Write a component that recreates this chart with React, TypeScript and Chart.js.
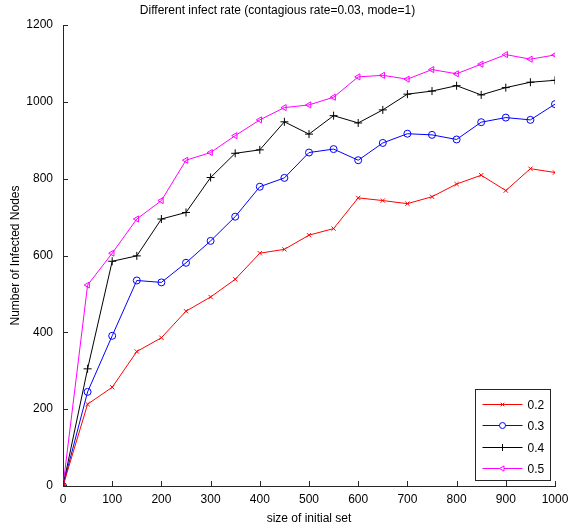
import React, { useEffect, useRef } from "react";
import { Chart, registerables } from "chart.js";
import { drawPoint } from "chart.js/helpers";

Chart.register(...registerables);

const titleText = "Different infect rate (contagious rate=0.03, mode=1)";
const xLabel = "size of initial set";
const yLabel = "Number of Infected Nodes";

const initialSetSizes = [0, 50, 100, 150, 200, 250, 300, 350, 400, 450, 500, 550, 600, 650, 700, 750, 800, 850, 900, 950, 1000];
const rate02 = [0, 213, 257, 350, 386, 455, 492, 538, 606, 616, 653, 670, 750, 743, 735, 753, 786, 809, 769, 826, 816];
const rate03 = [0, 245, 391, 535, 530, 581, 638, 701, 779, 802, 868, 877, 848, 893, 917, 914, 902, 947, 959, 953, 994];
const rate04 = [0, 305, 585, 599, 695, 712, 803, 866, 875, 948, 916, 964, 945, 979, 1020, 1028, 1042, 1018, 1037, 1051, 1056];
const rate05 = [0, 523, 606, 695, 743, 848, 868, 912, 953, 985, 992, 1012, 1065, 1069, 1059, 1084, 1073, 1098, 1123, 1111, 1122];
const seriesLabels = ["0.2", "0.3", "0.4", "0.5"];

const xMin = 0, xMax = 1000, xStep = 100;
const yMin = 0, yMax = 1200, yStep = 200;

const FONT = "'Liberation Sans', Helvetica, Arial, sans-serif";
const AXIS_COLOR = "#262626";

const seriesStyles = [
  { color: "#ff0000", pointStyle: "crossRot", rotation: 0, radius: 3 },
  { color: "#0000ff", pointStyle: "circle", rotation: 0, radius: 3.5 },
  { color: "#000000", pointStyle: "cross", rotation: 0, radius: 4 },
  { color: "#ff00ff", pointStyle: "triangle", rotation: -90, radius: 3.5 },
];

const inwardTicks = {
  id: "inwardTicks",
  afterDatasetsDraw(chart: any) {
    const { ctx } = chart;
    const xs = chart.scales.x;
    const ys = chart.scales.y;
    ctx.save();
    ctx.strokeStyle = AXIS_COLOR;
    ctx.lineWidth = 1;
    ctx.beginPath();
    xs.ticks.forEach((t: any) => {
      const px = Math.round(xs.getPixelForValue(t.value)) + 0.5;
      ctx.moveTo(px, ys.bottom);
      ctx.lineTo(px, ys.bottom - 5);
    });
    ys.ticks.forEach((t: any) => {
      const py = Math.round(ys.getPixelForValue(t.value)) + 0.5;
      ctx.moveTo(xs.left, py);
      ctx.lineTo(xs.left + 5, py);
    });
    ctx.stroke();
    ctx.restore();
  },
};

const boxLegend = {
  id: "boxLegend",
  afterDatasetsDraw(chart: any) {
    const { ctx, chartArea } = chart;
    const w = 75, h = 91;
    const x0 = Math.round(chartArea.right - 5 - w) + 0.5;
    const y0 = Math.round(chartArea.bottom - 6 - h) + 0.5;
    ctx.save();
    ctx.fillStyle = "#ffffff";
    ctx.fillRect(x0, y0, w, h);
    ctx.strokeStyle = AXIS_COLOR;
    ctx.lineWidth = 1;
    ctx.strokeRect(x0, y0, w, h);
    chart.data.datasets.forEach((ds: any, i: number) => {
      const st = seriesStyles[i];
      const cy = Math.round(y0 + 14.5 + i * 21.4) + 0.5;
      ctx.strokeStyle = st.color;
      ctx.lineWidth = 1;
      ctx.beginPath();
      ctx.moveTo(x0 + 7, cy);
      ctx.lineTo(x0 + 47, cy);
      ctx.stroke();
      ctx.fillStyle = "#ffffff";
      drawPoint(ctx, { pointStyle: st.pointStyle, rotation: st.rotation, radius: st.radius - 0.5, borderWidth: 1 } as any, x0 + 27, cy);
      ctx.fillStyle = "#000000";
      ctx.font = `12px ${FONT}`;
      ctx.textAlign = "left";
      ctx.textBaseline = "middle";
      ctx.fillText(ds.label, x0 + 52, cy + 1);
    });
    ctx.restore();
  },
};

export default function App() {
  const ref = useRef<HTMLCanvasElement | null>(null);
  useEffect(() => {
    document.body.style.margin = "0";
    const canvas = ref.current!;
    const allSeries = [rate02, rate03, rate04, rate05];
    const chart = new Chart(canvas, {
      type: "line",
      data: {
        datasets: allSeries.map((vals, i) => ({
          label: seriesLabels[i],
          data: initialSetSizes.map((x, j) => ({ x, y: vals[j] })),
          borderColor: seriesStyles[i].color,
          backgroundColor: "rgba(255,255,255,0)",
          borderWidth: 1,
          pointStyle: seriesStyles[i].pointStyle as any,
          rotation: seriesStyles[i].rotation,
          pointRadius: seriesStyles[i].radius,
          pointBorderWidth: 1,
          pointBorderColor: seriesStyles[i].color,
          pointBackgroundColor: "rgba(255,255,255,0)",
          tension: 0,
          fill: false,
        })),
      },
      options: {
        responsive: false,
        animation: false,
        layout: { padding: { left: 0, right: 14, top: 0, bottom: 0 } },
        plugins: {
          legend: { display: false },
          tooltip: { enabled: false },
          title: {
            display: true,
            text: titleText,
            color: "#000",
            font: { family: FONT, size: 12, weight: "normal" },
            padding: { top: 3, bottom: 7.6 },
          },
        },
        scales: {
          x: {
            type: "linear",
            min: xMin,
            max: xMax,
            afterFit: (s: any) => { s.height = 45; s.paddingRight = 0; s.paddingLeft = 0; },
            ticks: {
              stepSize: xStep,
              color: "#000",
              font: { family: FONT, size: 12 },
              padding: 6,
              maxRotation: 0,
              callback: (v: any) => String(v),
            },
            grid: { display: true, drawOnChartArea: false, drawTicks: false },
            border: { display: true, color: AXIS_COLOR, width: 1 },
            title: {
              display: true,
              text: xLabel,
              color: "#000",
              font: { family: FONT, size: 12 },
              padding: { top: 0, bottom: 4.8 },
            },
          },
          y: {
            type: "linear",
            min: yMin,
            max: yMax,
            afterFit: (s: any) => { s.width = 63; s.paddingTop = 0; s.paddingBottom = 0; },
            ticks: {
              stepSize: yStep,
              color: "#000",
              font: { family: FONT, size: 12 },
              padding: 10,
              callback: (v: any) => String(v),
            },
            grid: { display: true, drawOnChartArea: false, drawTicks: false },
            border: { display: true, color: AXIS_COLOR, width: 1 },
            title: {
              display: true,
              text: yLabel,
              color: "#000",
              font: { family: FONT, size: 12 },
              padding: { top: 8.8, bottom: 0 },
            },
          },
        },
      },
      plugins: [inwardTicks, boxLegend],
    });
    return () => chart.destroy();
  }, []);
  return (
    <div style={{ position: "absolute", left: 0, top: 0, width: 569, height: 531, background: "#fff" }}>
      <canvas ref={ref} width={569} height={531} />
    </div>
  );
}
